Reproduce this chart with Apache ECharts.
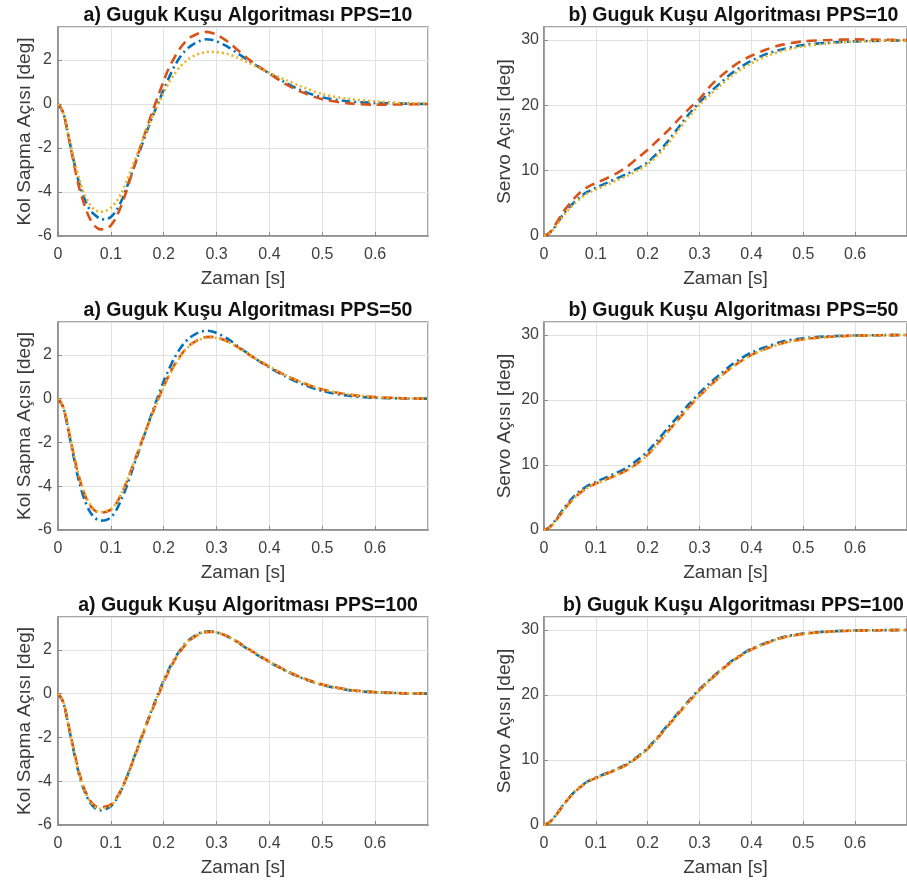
<!DOCTYPE html>
<html><head><meta charset="utf-8">
<script src="https://cdn.jsdelivr.net/npm/echarts@6/dist/echarts.min.js"></script>
<style>html,body{margin:0;padding:0;background:#fff}#c{width:907px;height:880px}</style>
</head><body><div id="c"></div>
<script>
// ---- tick / category data ----
const panelTitles = [
  'a) Guguk Kuşu Algoritması PPS=10', 'b) Guguk Kuşu Algoritması PPS=10',
  'a) Guguk Kuşu Algoritması PPS=50', 'b) Guguk Kuşu Algoritması PPS=50',
  'a) Guguk Kuşu Algoritması PPS=100', 'b) Guguk Kuşu Algoritması PPS=100'
];
const xName = 'Zaman [s]';
const yNameKol = 'Kol Sapma Açısı [deg]';
const yNameServo = 'Servo Açısı [deg]';
const seriesNames = ['Seri 1', 'Seri 2', 'Seri 3'];

// time samples (s)
const tLeft = [0,0.01,0.02,0.03,0.04,0.05,0.06,0.07,0.08,0.09,0.10,0.11,0.12,0.13,0.14,0.15,0.16,0.17,0.18,0.19,0.20,0.21,0.22,0.23,0.24,0.25,0.26,0.27,0.28,0.29,0.30,0.32,0.34,0.36,0.38,0.40,0.43,0.46,0.50,0.55,0.60,0.65,0.70];
const tRight = [0,0.01,0.02,0.03,0.04,0.05,0.06,0.07,0.08,0.09,0.10,0.12,0.14,0.16,0.18,0.20,0.22,0.24,0.26,0.28,0.30,0.32,0.34,0.36,0.38,0.40,0.43,0.46,0.50,0.55,0.60,0.65,0.70];

// ---- Kol Sapma Açısı (deg), PPS=10 ----
const kol10Blue = [0,-0.4,-1.5,-2.6,-3.6,-4.3,-4.8,-5.05,-5.22,-5.25,-5.14,-4.85,-4.4,-3.8,-3.12,-2.45,-1.78,-1.12,-0.5,0.08,0.65,1.2,1.7,2.1,2.4,2.62,2.77,2.88,2.94,2.92,2.85,2.62,2.3,1.98,1.68,1.39,0.98,0.62,0.3,0.12,0.05,0.02,0.0];
const kol10Red  = [0,-0.4,-1.5,-2.7,-3.8,-4.6,-5.2,-5.55,-5.7,-5.68,-5.52,-5.15,-4.6,-3.92,-3.15,-2.4,-1.65,-0.95,-0.25,0.4,1.05,1.65,2.1,2.5,2.8,3.02,3.15,3.24,3.28,3.24,3.15,2.85,2.45,2.05,1.7,1.38,0.92,0.55,0.22,0.03,-0.03,-0.02,0.0];
const kol10Yel  = [0,-0.4,-1.45,-2.5,-3.4,-4.1,-4.55,-4.82,-4.9,-4.85,-4.72,-4.45,-4.05,-3.5,-2.88,-2.26,-1.65,-1.06,-0.5,0.02,0.53,0.98,1.35,1.67,1.9,2.1,2.22,2.31,2.36,2.37,2.36,2.28,2.1,1.88,1.65,1.42,1.1,0.8,0.45,0.23,0.12,0.05,0.02];
// ---- PPS=50 ----
const kol50Blue = [0,-0.4,-1.5,-2.7,-3.8,-4.6,-5.15,-5.45,-5.57,-5.55,-5.42,-5.1,-4.6,-4.0,-3.3,-2.6,-1.9,-1.2,-0.5,0.15,0.8,1.35,1.85,2.25,2.57,2.8,2.95,3.05,3.1,3.08,3.0,2.75,2.4,2.05,1.72,1.42,1.02,0.68,0.35,0.13,0.04,0.01,0];
const kol50Red  = [0,-0.4,-1.45,-2.6,-3.6,-4.35,-4.85,-5.12,-5.22,-5.18,-5.07,-4.8,-4.35,-3.8,-3.15,-2.5,-1.85,-1.2,-0.6,0.0,0.57,1.08,1.53,1.9,2.22,2.46,2.62,2.74,2.81,2.82,2.79,2.62,2.35,2.03,1.73,1.45,1.07,0.75,0.42,0.18,0.07,0.02,0.0];
const kol50Yel  = [0,-0.38,-1.4,-2.55,-3.55,-4.3,-4.8,-5.08,-5.18,-5.14,-5.04,-4.77,-4.33,-3.78,-3.14,-2.5,-1.86,-1.22,-0.62,-0.03,0.53,1.04,1.49,1.86,2.18,2.43,2.59,2.71,2.78,2.79,2.77,2.61,2.35,2.04,1.74,1.46,1.08,0.76,0.43,0.19,0.07,0.02,0.0];
// ---- PPS=100 ----
const kol100Blue = [0,-0.4,-1.5,-2.65,-3.7,-4.45,-4.95,-5.23,-5.33,-5.28,-5.15,-4.85,-4.4,-3.82,-3.17,-2.5,-1.85,-1.2,-0.58,0.02,0.6,1.12,1.58,1.95,2.27,2.5,2.66,2.78,2.85,2.85,2.8,2.62,2.34,2.02,1.72,1.44,1.05,0.72,0.4,0.16,0.06,0.02,0];
const kol100Red  = [0,-0.38,-1.45,-2.58,-3.6,-4.35,-4.85,-5.12,-5.2,-5.16,-5.06,-4.79,-4.37,-3.82,-3.2,-2.55,-1.9,-1.26,-0.65,-0.06,0.52,1.04,1.5,1.88,2.2,2.45,2.62,2.74,2.81,2.82,2.79,2.63,2.36,2.05,1.75,1.46,1.07,0.74,0.42,0.18,0.07,0.02,0];
const kol100Yel  = [0,-0.39,-1.47,-2.6,-3.65,-4.4,-4.9,-5.17,-5.26,-5.22,-5.11,-4.83,-4.39,-3.82,-3.19,-2.53,-1.88,-1.23,-0.62,-0.02,0.56,1.08,1.54,1.91,2.23,2.47,2.64,2.76,2.83,2.84,2.8,2.63,2.35,2.04,1.74,1.45,1.06,0.73,0.41,0.17,0.06,0.02,0];

// ---- Servo Açısı (deg), PPS=10 ----
const servo10Blue = [0,0.4,1.3,2.5,3.6,4.5,5.3,6.0,6.6,7.0,7.4,8.1,8.8,9.5,10.3,11.3,12.8,14.6,16.7,18.7,20.5,22.0,23.4,24.8,25.9,26.85,27.9,28.6,29.25,29.6,29.8,29.9,29.95];
const servo10Red  = [0,0.45,1.5,2.8,4.0,5.0,5.9,6.7,7.3,7.75,8.1,8.8,9.6,10.6,11.9,13.2,14.7,16.2,17.9,19.5,21.0,22.9,24.4,25.7,26.8,27.6,28.6,29.3,29.8,30.0,30.1,30.05,30.0];
const servo10Yel  = [0,0.35,1.2,2.3,3.35,4.25,5.05,5.75,6.35,6.75,7.1,7.8,8.5,9.2,10.0,11.0,12.4,14.2,16.3,18.3,20.1,21.6,23.0,24.4,25.5,26.45,27.55,28.35,29.05,29.5,29.75,29.88,29.95];
// ---- PPS=50 ----
const servo50Blue = [0,0.4,1.3,2.4,3.5,4.5,5.35,6.05,6.6,7.05,7.4,8.1,8.8,9.6,10.75,12.1,13.9,15.8,17.6,19.4,21.1,22.6,24.0,25.3,26.4,27.3,28.2,29.0,29.5,29.8,29.92,29.97,30.0];
const servo50Red  = [0,0.35,1.2,2.2,3.25,4.2,5.05,5.75,6.35,6.8,7.15,7.8,8.45,9.2,10.25,11.6,13.35,15.25,17.1,18.95,20.65,22.2,23.6,24.9,26.0,26.95,27.95,28.75,29.35,29.72,29.9,29.97,30.0];
const servo50Yel  = [0,0.33,1.15,2.15,3.2,4.15,5.0,5.7,6.3,6.75,7.1,7.75,8.4,9.15,10.2,11.55,13.3,15.2,17.05,18.9,20.6,22.15,23.55,24.85,25.95,26.9,27.9,28.7,29.3,29.7,29.88,29.96,30.0];
// ---- PPS=100 ----
const servo100Blue = [0,0.38,1.25,2.3,3.4,4.35,5.2,5.9,6.5,6.95,7.3,7.95,8.6,9.4,10.5,11.85,13.6,15.5,17.35,19.2,20.9,22.4,23.8,25.1,26.2,27.1,28.1,28.9,29.45,29.78,29.92,29.97,30.0];
const servo100Red  = [0,0.36,1.2,2.25,3.32,4.28,5.12,5.82,6.42,6.88,7.22,7.88,8.52,9.3,10.38,11.72,13.45,15.35,17.2,19.05,20.75,22.3,23.7,25.0,26.1,27.0,28.0,28.82,29.4,29.75,29.9,29.97,30.0];
const servo100Yel  = [0,0.35,1.18,2.22,3.3,4.25,5.1,5.8,6.4,6.85,7.2,7.85,8.5,9.28,10.35,11.7,13.42,15.32,17.18,19.02,20.72,22.27,23.68,24.98,26.08,26.98,27.98,28.8,29.38,29.74,29.9,29.96,30.0];

// ---- layout / styling ----
const FONT = '"Liberation Sans", Arial, sans-serif';
const colors = ['#0072BD', '#D95319', '#EDB120'];
const dashes = [[9, 4, 2, 4], [10, 6], [2, 3]];
const colLeft = [58, 544], colWidth = [370, 369];
const rowTop = [27, 322, 617], rowHeight = [209, 208, 208];

const panels = [
  { t: tLeft,  ys: [kol10Blue, kol10Red, kol10Yel],       kind: 'kol' },
  { t: tRight, ys: [servo10Blue, servo10Red, servo10Yel], kind: 'servo' },
  { t: tLeft,  ys: [kol50Blue, kol50Red, kol50Yel],       kind: 'kol' },
  { t: tRight, ys: [servo50Blue, servo50Red, servo50Yel], kind: 'servo' },
  { t: tLeft,  ys: [kol100Blue, kol100Red, kol100Yel],    kind: 'kol' },
  { t: tRight, ys: [servo100Blue, servo100Red, servo100Yel], kind: 'servo' }
];

const grid = [], xAxis = [], yAxis = [], title = [], series = [];
panels.forEach((p, i) => {
  const r = Math.floor(i / 2), c = i % 2;
  const L = colLeft[c], W = colWidth[c], T = rowTop[r], H = rowHeight[r];
  grid.push({ left: L, top: T, width: W, height: H, show: true, borderColor: '#8a8a8a', borderWidth: 1.5, backgroundColor: '#fff', containLabel: false });
  title.push({ text: panelTitles[i], left: L + W / 2, top: T - 26, textAlign: 'center',
    textStyle: { fontFamily: FONT, fontSize: 19.5, fontWeight: 'bold', color: '#111' } });
  xAxis.push({ type: 'value', gridIndex: i, min: 0, max: 0.7, interval: 0.1,
    name: xName, nameLocation: 'middle', nameGap: 33,
    nameTextStyle: { fontFamily: FONT, fontSize: 19, color: '#3a3a3a' },
    axisLine: { show: true, onZero: false, lineStyle: { color: '#8a8a8a', width: 1.5 } },
    axisTick: { show: true, inside: true, length: 4, lineStyle: { color: '#8a8a8a' } },
    axisLabel: { fontFamily: FONT, fontSize: 16, color: '#404040', margin: 11, showMaxLabel: false,
      formatter: v => (Math.round(v * 10) / 10).toString() },
    splitLine: { show: true, lineStyle: { color: '#e2e2e2', width: 1 } } });
  const isKol = p.kind === 'kol';
  yAxis.push({ type: 'value', gridIndex: i,
    min: isKol ? -6 : 0, max: isKol ? 3.5 : 32, interval: isKol ? 2 : 10,
    name: isKol ? yNameKol : yNameServo, nameLocation: 'middle', nameGap: isKol ? 21 : 30,
    nameTextStyle: { fontFamily: FONT, fontSize: 19, color: '#3a3a3a' },
    axisLine: { show: true, onZero: false, lineStyle: { color: '#8a8a8a', width: 1.5 } },
    axisTick: { show: true, inside: true, length: 4, lineStyle: { color: '#8a8a8a' } },
    axisLabel: { fontFamily: FONT, fontSize: 16, color: '#404040', margin: isKol ? 6 : 5, showMaxLabel: false },
    splitLine: { show: true, lineStyle: { color: '#e2e2e2', width: 1 } } });
  p.ys.forEach((ys, k) => {
    series.push({ type: 'line', name: seriesNames[k], xAxisIndex: i, yAxisIndex: i,
      data: p.t.map((tv, j) => [tv, ys[j]]), showSymbol: false, symbol: 'none', smooth: 0.3,
      lineStyle: { color: colors[k], width: 2.6, type: dashes[k] }, itemStyle: { color: colors[k] },
      silent: true, animation: false, z: 2 + k });
  });
});

const chart = echarts.init(document.getElementById('c'), null, { renderer: 'canvas' });
chart.setOption({ backgroundColor: '#fff', animation: false, title, grid, xAxis, yAxis, series });
</script>
</body></html>
